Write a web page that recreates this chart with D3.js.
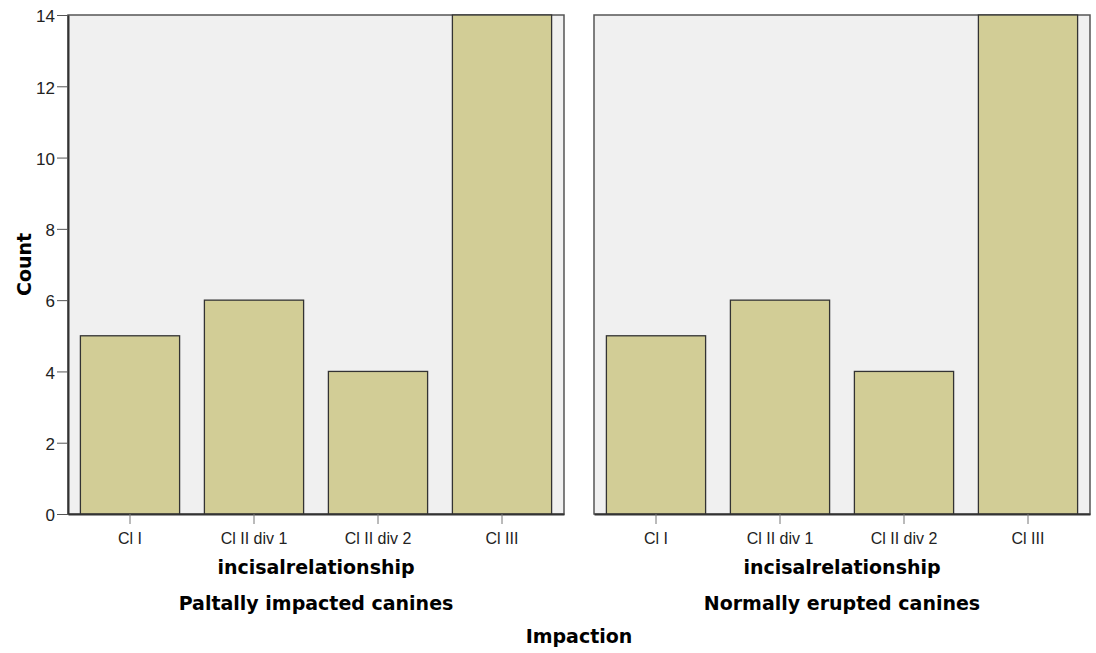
<!DOCTYPE html>
<html>
<head>
<meta charset="utf-8">
<script src="https://cdn.jsdelivr.net/npm/d3@7"></script>
<style>
  body { margin: 0; background: #fff; }
  .title { font-family: "DejaVu Sans", sans-serif; font-weight: bold; }
  .tick text { font-family: "Liberation Sans Narrow", "Liberation Sans", Arial, sans-serif; }
</style>
</head>
<body>
<svg id="chart"></svg>
<script>
const categories = ['Cl I', 'Cl II div 1', 'Cl II div 2', 'Cl III'];
const panels = ['Paltally impacted canines', 'Normally erupted canines'];
const palatalCounts = [5, 6, 4, 14];
const normalCounts = [5, 6, 4, 14];
const yTicks = [0, 2, 4, 6, 8, 10, 12, 14];

const width = 1096, height = 653;
const plotTop = 15, plotBottom = 514;
const panelX = [68, 594];
const panelW = 496;

const svg = d3.select('#chart').attr('width', width).attr('height', height);

const y = d3.scaleLinear().domain([0, 14]).range([plotBottom, plotTop]);

const seriesList = [palatalCounts, normalCounts];

panels.forEach((name, p) => {
  const x0 = panelX[p];
  const x = d3.scaleBand()
    .domain(categories)
    .range([x0, x0 + panelW])
    .paddingInner(0.2)
    .paddingOuter(0.1);

  const g = svg.append('g');

  // panel background
  g.append('rect')
    .attr('x', x0).attr('y', plotTop)
    .attr('width', panelW).attr('height', plotBottom - plotTop)
    .attr('fill', '#f0f0f0')
    .attr('stroke', '#555')
    .attr('stroke-width', 1.5);

  // bars
  g.selectAll('.bar')
    .data(seriesList[p])
    .join('rect')
    .attr('class', 'bar')
    .attr('x', (_, i) => x(categories[i]))
    .attr('y', d => y(d))
    .attr('width', x.bandwidth())
    .attr('height', d => plotBottom - y(d))
    .attr('fill', '#d2cd96')
    .attr('stroke', '#333')
    .attr('stroke-width', 1.3);

  // bottom axis
  const xa = g.append('g')
    .attr('transform', `translate(0,${plotBottom})`)
    .call(d3.axisBottom(x).tickSize(10).tickPadding(9).tickSizeOuter(0));
  xa.select('.domain').attr('stroke', '#333').attr('stroke-width', 2);
  xa.selectAll('.tick line').attr('stroke', '#777');
  xa.selectAll('text').attr('font-size', '16px').attr('fill', '#222');

  // left axis only on first panel
  if (p === 0) {
    const ya = g.append('g')
      .attr('transform', `translate(${x0},0)`)
      .call(d3.axisLeft(y).tickValues(yTicks).tickSize(11).tickPadding(2).tickSizeOuter(0));
    ya.select('.domain').attr('stroke', '#333').attr('stroke-width', 2);
    ya.selectAll('.tick line').attr('stroke', '#555');
    ya.selectAll('text').attr('font-size', '17px').attr('fill', '#222').attr('dy', '0.4em');
  }

  const cx = x0 + panelW / 2;
  g.append('text')
    .attr('class', 'title')
    .attr('x', cx).attr('y', 574)
    .attr('text-anchor', 'middle')
    .attr('font-size', '19px')
    .text('incisalrelationship');
  g.append('text')
    .attr('class', 'title')
    .attr('x', cx).attr('y', 610)
    .attr('text-anchor', 'middle')
    .attr('font-size', '19px')
    .text(name);
});

svg.append('text')
  .attr('class', 'title')
  .attr('x', (panelX[0] + panelX[1] + panelW) / 2)
  .attr('y', 643)
  .attr('text-anchor', 'middle')
  .attr('font-size', '19px')
  .text('Impaction');

svg.append('text')
  .attr('class', 'title')
  .attr('transform', `translate(31,${(plotTop + plotBottom) / 2}) rotate(-90)`)
  .attr('text-anchor', 'middle')
  .attr('font-size', '19px')
  .text('Count');
</script>
</body>
</html>
